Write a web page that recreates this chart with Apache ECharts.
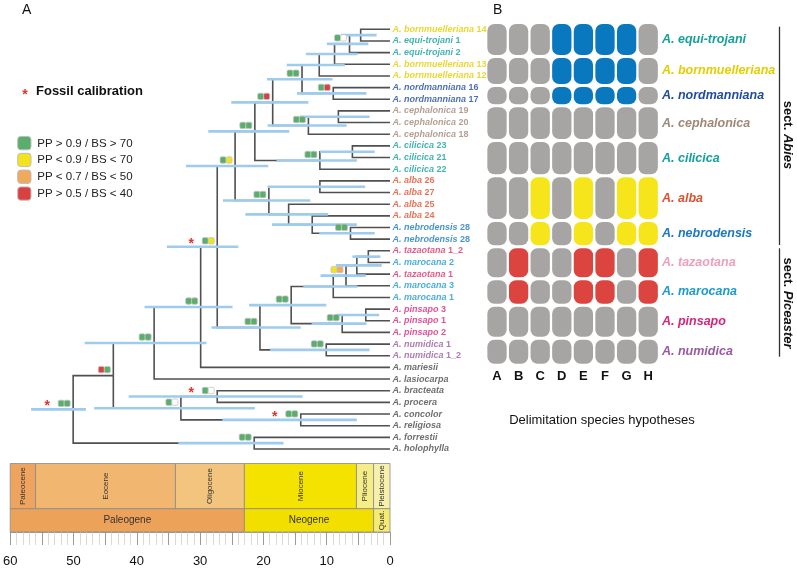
<!DOCTYPE html>
<html><head><meta charset="utf-8">
<script src="https://cdn.jsdelivr.net/npm/echarts@6/dist/echarts.min.js"></script>
<style>html,body{margin:0;padding:0;background:#fff}#c{width:797px;height:570px}</style>
</head><body><div id="c"></div>
<script>
// ---------- DATA ----------
const leafSpecies = ['bornmuelleriana','equi-trojani','equi-trojani','bornmuelleriana','bornmuelleriana','nordmanniana','nordmanniana','cephalonica','cephalonica','cephalonica','cilicica','cilicica','cilicica','alba','alba','alba','alba','nebrodensis','nebrodensis','tazaotana','marocana','tazaotana','marocana','marocana','pinsapo','pinsapo','pinsapo','numidica','numidica','mariesii','lasiocarpa','bracteata','procera','concolor','religiosa','forrestii','holophylla'];
const leafNumbers = ['14','1','2','13','12','16','17','19','20','18','23','21','22','26','27','25','24','28','28','1_2','2','1','3','1','3','1','2','1','1_2','','','','','','','',''];
// [id, child1, child2, age Ma, HPD low, HPD high, PP class, BS class, fossil calibration]
const treeNodes = [
 ['n1','L0','L1',4.6,2.1,7.7,'','',0],
 ['n2','n1','L2',6.35,3.4,9.9,'g','w',0],
 ['n3','n2','L3',8.7,5.1,13.2,'','',0],
 ['n4','n3','L4',11.1,7.1,16.2,'','',0],
 ['n5','L5','L6',8.9,3.7,14.6,'g','r',0],
 ['n6','n4','n5',13.8,9.0,19.3,'g','g',0],
 ['n7','L7','L8',8.1,3.2,14.2,'','',0],
 ['n8','n7','L9',12.8,6.8,19.2,'g','g',0],
 ['n9','n6','n8',18.4,12.8,24.9,'g','r',0],
 ['n10','L10','L11',5.9,2.4,11.0,'','',0],
 ['n11','n10','L12',11.0,5.2,17.8,'g','g',0],
 ['n12','n9','n11',21.2,15.8,28.5,'g','g',0],
 ['n13','L13','L14',11.0,3.9,19.2,'','',0],
 ['n14','L17','L18',6.2,2.4,11.1,'g','g',0],
 ['n15','L16','n14',12.2,5.2,18.5,'','',0],
 ['n16','L15','n15',15.9,9.7,22.7,'','',0],
 ['n17','n13','n16',19.0,12.5,26.2,'g','g',0],
 ['n18','n12','n17',24.3,19.1,32.0,'g','y',0],
 ['n19','L19','L20',3.4,1.5,5.9,'','',0],
 ['n20','n19','L21',5.2,1.3,8.5,'','',0],
 ['n21','n20','L22',6.9,3.8,10.9,'y','o',0],
 ['n22','n21','L23',8.9,5.1,13.6,'','',0],
 ['n23','L24','L25',3.8,1.7,8.5,'','',0],
 ['n24','n23','L26',7.5,3.7,12.3,'g','g',0],
 ['n25','n22','n24',15.5,10.0,22.1,'g','g',0],
 ['n26','L27','L28',10.0,3.2,18.8,'g','g',0],
 ['n27','n25','n26',20.4,14.0,28.0,'g','g',0],
 ['n28','n18','n27',27.1,23.8,35.0,'g','y',1],
 ['n29','n28','L29',29.7,24.7,38.5,'g','g',0],
 ['n30','n29','L30',37.0,28.8,47.9,'g','g',0],
 ['n31','L31','L32',27.1,13.7,41.0,'g','w',1],
 ['n32','L33','L34',14.0,5.2,26.3,'g','g',1],
 ['n33','n31','n32',32.8,21.2,46.4,'g','w',0],
 ['n34','n30','n33',43.4,null,null,'r','g',0],
 ['n35','L35','L36',21.3,16.7,33.2,'g','g',0],
 ['n36','n34','n35',49.7,47.7,56.3,'g','g',1]
];
const epochNames = ['Paleocene','Eocene','Oligocene','Miocene','Pliocene','Pleistocene'];
const epochStart = [60, 56, 33.9, 23.0, 5.3, 2.6];
const epochEnd   = [56, 33.9, 23.0, 5.3, 2.6, 0];
const periodNames = ['Paleogene','Neogene','Quat.'];
const periodStart = [60, 23.0, 2.6];
const periodEnd   = [23.0, 2.6, 0];
const timeTicks = [0,10,20,30,40,50,60];

const hypotheses = ['A','B','C','D','E','F','G','H'];
const groups = ['equi-trojani','bornmuelleriana','nordmanniana','cephalonica','cilicica','alba','nebrodensis','tazaotana','marocana','pinsapo','numidica'];
// per group, class of each hypothesis column: 0 = gray (not separated), 1 = blue, 2 = yellow, 3 = red
const delimitation = [
 [0,0,0,1,1,1,1,0],
 [0,0,0,1,1,1,1,0],
 [0,0,0,1,1,1,1,0],
 [0,0,0,0,0,0,0,0],
 [0,0,0,0,0,0,0,0],
 [0,0,2,0,2,0,2,2],
 [0,0,2,0,2,0,2,2],
 [0,3,0,0,3,3,0,3],
 [0,3,0,0,3,3,0,3],
 [0,0,0,0,0,0,0,0],
 [0,0,0,0,0,0,0,0]
];
const legendLabels = ['PP > 0.9 / BS > 70','PP < 0.9 / BS < 70','PP < 0.7 / BS < 50','PP > 0.5 / BS < 40'];

// ---------- STYLE ----------
const FONT = '"Liberation Sans", Arial, Helvetica, sans-serif';
const speciesColor = {'bornmuelleriana':'#e4cd00','equi-trojani':'#14a19c','nordmanniana':'#1f4c9c','cephalonica':'#a08878','cilicica':'#14a19c','alba':'#e0502f','nebrodensis':'#1c78c0','tazaotana':'#d8336c','marocana':'#1b9ad2','pinsapo':'#d6257b','numidica':'#995aa2'};
const groupColor = Object.assign({}, speciesColor, {'tazaotana':'#efa0b8'});
const supportColor = {g:'#5aae6c', y:'#f3e31c', o:'#efaa5b', r:'#db4040', w:'#ffffff'};
const cellColor = ['#a6a5a3','#0a78bf','#f5e51a','#dc4440'];
const epochColor = ['#eea35f','#f1b66f','#f3c47d','#f4e200','#f6ec88','#f7f0ac'];
const periodColor = ['#eda25a','#f2df00','#f5ea72'];
const cellHeights = [31, 26, 17.3, 31.7, 32.2, 41.7, 23.4, 29, 23.4, 30, 24];
const cellGap = 3;

// ---------- DERIVED ----------
const pos = {};
leafSpecies.forEach((s,i)=>{ pos['L'+i] = [0, i]; });
treeNodes.forEach(n=>{ const a = pos[n[1]], b = pos[n[2]]; pos[n[0]] = [n[3], (a[1]+b[1])/2]; });
const edgeData = [];
treeNodes.forEach(n=>{ [n[1],n[2]].forEach(ch=>{ const p = pos[n[0]], c = pos[ch]; edgeData.push([p[0], p[1], c[0], c[1]]); }); });
const hpdData = treeNodes.filter(n=>n[4]!=null).map(n=>[n[4], n[5], pos[n[0]][1]]);
const markerNodes = treeNodes.filter(n=>n[6] || n[8]);
const markerData = markerNodes.map(n=>[n[3], pos[n[0]][1]]);

const leafData = leafSpecies.map((s,i)=>{
  const col = speciesColor[s] || '#4a4a4a';
  const num = leafNumbers[i];
  return {value:[0,i], label:{formatter: '{s|A. '+s+'}' + (num ? '{n| '+num+'}' : ''),
    rich:{s:{color:col, fontStyle:'italic', fontWeight:'bold', fontSize:9, fontFamily:FONT}, n:{color:col, fontWeight:'bold', fontSize:9, fontFamily:FONT}}}};
});

const tsData = [];
epochNames.forEach((n,i)=>tsData.push({value:[epochStart[i], epochEnd[i], 0, 0.66], name:n, fill:epochColor[i], kind:'e'}));
periodNames.forEach((n,i)=>tsData.push({value:[periodStart[i], periodEnd[i], 0.66, 1], name:n, fill:periodColor[i], kind:'p'}));

const cellStarts = []; let acc = 0;
cellHeights.forEach(h=>{ cellStarts.push(acc); acc += h + cellGap; });
const cellTotal = acc - cellGap;
const cellData = [];
groups.forEach((g,gi)=>{ hypotheses.forEach((h,hi)=>{ cellData.push([hi, cellStarts[gi], cellStarts[gi]+cellHeights[gi], delimitation[gi][hi]]); }); });
const groupLabelData = groups.map((g,gi)=>[7, cellStarts[gi] + cellHeights[gi]/2]);

// ---------- CHART ----------
const chart = echarts.init(document.getElementById('c'));
const option = {
  animation:false,
  grid:[
    {left:7.5, width:382.5, top:29.3, height:419.7},
    {left:7.5, width:382.5, top:463.5, height:68.5},
    {left:486.2, width:172.8, top:24, height:cellTotal}
  ],
  xAxis:[
    {gridIndex:0, type:'value', min:0, max:60, inverse:true, show:false},
    {gridIndex:1, type:'value', min:0, max:60, inverse:true, interval:5, position:'bottom',
      axisLine:{show:true, onZero:false, lineStyle:{color:'#8a8a8a', width:0.8}}, splitLine:{show:false},
      axisTick:{show:true, inside:false, length:13, lineStyle:{color:'#9a9a9a', width:1}},
      minorTick:{show:true, splitNumber:5, length:13, lineStyle:{color:'#d9d9d9', width:1}},
      axisLabel:{margin:23, fontSize:13, color:'#111', fontFamily:FONT, formatter:v=> timeTicks.indexOf(v)>=0 ? String(v) : ''}},
    {gridIndex:2, type:'category', data:hypotheses, axisLine:{show:false}, axisTick:{show:false},
      axisLabel:{margin:6, fontSize:13, fontWeight:'bold', color:'#111', fontFamily:FONT}}
  ],
  yAxis:[
    {gridIndex:0, type:'value', min:0, max:36, inverse:true, show:false},
    {gridIndex:1, type:'value', min:0, max:1, inverse:true, show:false},
    {gridIndex:2, type:'value', min:0, max:cellTotal, inverse:true, show:false}
  ],
  series:[
    {type:'custom', xAxisIndex:0, yAxisIndex:0, silent:true, data:edgeData, z:2,
      renderItem:(params, api)=>{
        const a = api.coord([api.value(0), api.value(1)]);
        const b = api.coord([api.value(0), api.value(3)]);
        const c = api.coord([api.value(2), api.value(3)]);
        return {type:'polyline', shape:{points:[a,b,c]}, style:{stroke:'#505050', lineWidth:1.6, fill:null, lineJoin:'miter'}};
      }},
    {type:'custom', xAxisIndex:0, yAxisIndex:0, silent:true, data:hpdData, z:3,
      renderItem:(params, api)=>{
        const a = api.coord([api.value(0), api.value(2)]);
        const b = api.coord([api.value(1), api.value(2)]);
        return {type:'line', shape:{x1:a[0], y1:a[1], x2:b[0], y2:b[1]}, style:{stroke:'#9fcbec', lineWidth:2.6}};
      }},
    {type:'custom', xAxisIndex:0, yAxisIndex:0, silent:true, data:markerData, z:4,
      renderItem:(params, api)=>{
        const n = markerNodes[params.dataIndex];
        const p = api.coord([api.value(0), api.value(1)]);
        const ch = [];
        if (n[6]) {
          ch.push({type:'rect', shape:{x:p[0]-15, y:p[1]-9.2, width:6, height:6.4, r:1.5}, style:{fill:supportColor[n[6]], stroke:'#c4c4c4', lineWidth:0.8}});
          ch.push({type:'rect', shape:{x:p[0]-9, y:p[1]-9.2, width:6, height:6.4, r:1.5}, style:{fill:supportColor[n[7]], stroke:'#c4c4c4', lineWidth:0.8}});
        }
        if (n[8]) {
          ch.push({type:'text', x:p[0]-26, y:p[1]-3, style:{text:'*', fill:'#e0332d', font:'bold 14px '+FONT, align:'center', verticalAlign:'middle'}});
        }
        return {type:'group', children:ch};
      }},
    {type:'scatter', xAxisIndex:0, yAxisIndex:0, silent:true, symbolSize:0, data:leafData, z:5,
      label:{show:true, position:'right', distance:2.5}},
    {type:'custom', xAxisIndex:1, yAxisIndex:1, silent:true, data:tsData,
      renderItem:(params, api)=>{
        const d = tsData[params.dataIndex];
        const a = api.coord([api.value(0), api.value(2)]);
        const b = api.coord([api.value(1), api.value(3)]);
        const w = b[0]-a[0], h = b[1]-a[1];
        const vertical = d.kind==='e' || w < 30;
        const fs = d.kind==='e' ? 8 : (w < 30 ? 8 : 10);
        return {type:'group', children:[
          {type:'rect', shape:{x:a[0], y:a[1], width:w, height:h}, style:{fill:d.fill, stroke:'#8a8a8a', lineWidth:0.8}},
          {type:'text', x:a[0]+w/2, y:a[1]+h/2, rotation: vertical ? Math.PI/2 : 0,
            style:{text:d.name, fill:'#333', font:fs+'px '+FONT, align:'center', verticalAlign:'middle'}}
        ]};
      }},
    {type:'custom', xAxisIndex:2, yAxisIndex:2, silent:true, data:cellData,
      renderItem:(params, api)=>{
        const a = api.coord([api.value(0), api.value(1)]);
        const b = api.coord([api.value(0), api.value(2)]);
        const bw = api.size([1,0])[0];
        const w = bw - 2.3;
        return {type:'rect', shape:{x:a[0]-w/2, y:a[1], width:w, height:b[1]-a[1], r:7}, style:{fill:cellColor[api.value(3)]}};
      }},
    {type:'custom', xAxisIndex:2, yAxisIndex:2, silent:true, data:groupLabelData,
      renderItem:(params, api)=>{
        const p = api.coord([api.value(0), api.value(1)]);
        const bw = api.size([1,0])[0];
        const g = groups[params.dataIndex];
        return {type:'text', x:p[0]+bw/2+3, y:p[1], style:{text:'A. '+g, fill:groupColor[g], font:'italic bold 12.5px '+FONT, align:'left', verticalAlign:'middle'}};
      }}
  ],
  graphic:[
    {type:'text', left:22, top:3, style:{text:'A', font:'14px '+FONT, fill:'#111'}},
    {type:'text', left:493, top:3, style:{text:'B', font:'14px '+FONT, fill:'#111'}},
    {type:'text', x:25, y:95, style:{text:'*', font:'bold 14px '+FONT, fill:'#e0332d', align:'center', verticalAlign:'middle'}},
    {type:'text', x:36, y:91, style:{text:'Fossil calibration', font:'bold 13px '+FONT, fill:'#111', verticalAlign:'middle'}},
    ...['g','y','o','r'].map((k,i)=>({type:'rect', shape:{x:17.7, y:136.5+i*16.8, width:13.3, height:13.3, r:3}, style:{fill:supportColor[k], stroke:'#bdbdbd', lineWidth:1}})),
    ...legendLabels.map((t,i)=>({type:'text', x:37.3, y:143.5+i*16.8, style:{text:t, font:'11.5px '+FONT, fill:'#222', verticalAlign:'middle'}})),
    {type:'text', x:602, y:420, style:{text:'Delimitation species hypotheses', font:'13px '+FONT, fill:'#111', align:'center', verticalAlign:'middle'}},
    {type:'line', shape:{x1:779.5, y1:26.7, x2:779.5, y2:245}, style:{stroke:'#333', lineWidth:1.3}},
    {type:'line', shape:{x1:779.5, y1:248.3, x2:779.5, y2:356.7}, style:{stroke:'#333', lineWidth:1.3}},
    {type:'text', x:788, y:135, rotation:-Math.PI/2, style:{text:'sect. {i|Abies}', rich:{i:{fontStyle:'italic', fontWeight:'bold', fontSize:13, fontFamily:FONT, fill:'#111'}}, font:'bold 13px '+FONT, fill:'#111', align:'center', verticalAlign:'middle'}},
    {type:'text', x:788, y:303, rotation:-Math.PI/2, style:{text:'sect. {i|Piceaster}', rich:{i:{fontStyle:'italic', fontWeight:'bold', fontSize:13, fontFamily:FONT, fill:'#111'}}, font:'bold 13px '+FONT, fill:'#111', align:'center', verticalAlign:'middle'}}
  ]
};
chart.setOption(option);
</script>
</body></html>
